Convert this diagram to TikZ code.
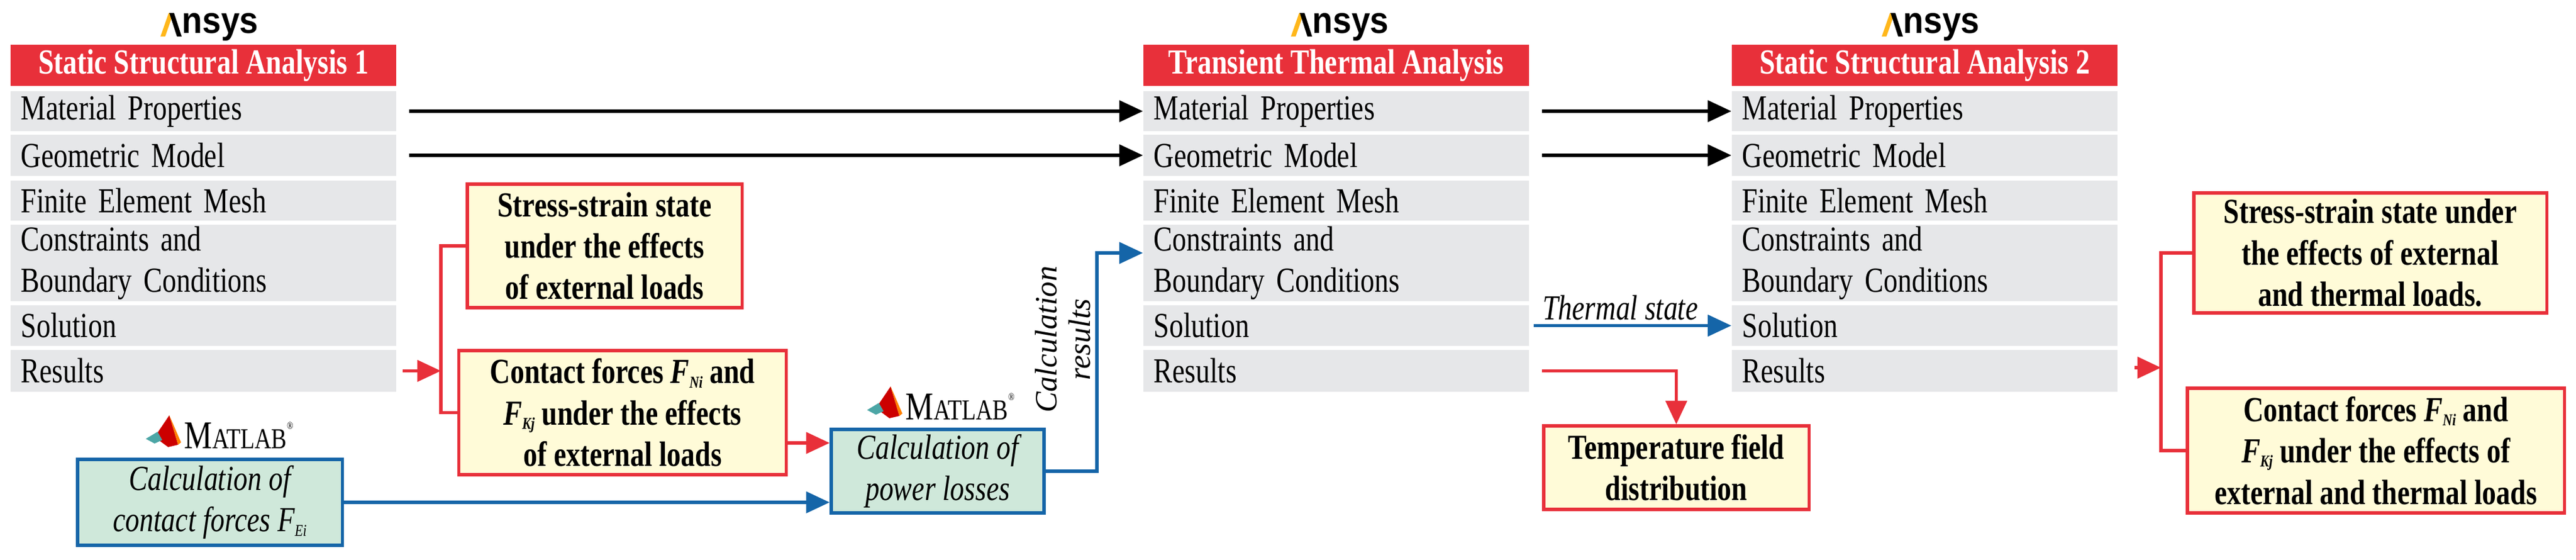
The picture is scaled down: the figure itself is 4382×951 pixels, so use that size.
\documentclass[tikz,border=0pt]{standalone}
\usepackage{fontspec}
\setmainfont{Liberation Serif}[FakeStretch=0.8]
\newfontfamily\logofont{Liberation Sans}[FakeStretch=0.9]
\newfontfamily\plainserif{Liberation Serif}
\usetikzlibrary{arrows.meta}
\definecolor{hdrred}{HTML}{E8303A}
\definecolor{rowgray}{HTML}{E6E7E9}
\definecolor{boxyel}{HTML}{FFFBD8}
\definecolor{boxgrn}{HTML}{CFE8DA}
\definecolor{lnblue}{HTML}{1565A8}
\definecolor{ansor}{HTML}{FFB71B}
\newcommand\ftxt{\fontsize{17pt}{20pt}\selectfont}
\newcommand\Fsub[2]{\textit{#1}\raisebox{-0.12em}{\footnotesize\textit{#2}}}
\tikzset{
  hdr/.style={fill=hdrred, text=white, font=\ftxt\bfseries, minimum width=6.56cm, minimum height=0.70cm, inner sep=0pt},
  row/.style={fill=rowgray, font=\ftxt, minimum width=6.56cm, text width=6.2cm, inner xsep=0.18cm, inner ysep=0pt, align=left},
  ybox/.style={draw=hdrred, line width=1.5pt, fill=boxyel, font=\ftxt\bfseries, align=center, inner sep=0pt},
  gbox/.style={draw=lnblue, line width=1.5pt, fill=boxgrn, font=\ftxt\itshape, align=center, inner sep=0pt},
  blk/.style={line width=1.5pt, -{Triangle[length=0.4cm,width=0.36cm]}},
  redl/.style={hdrred, line width=1.5pt, -{Triangle[length=0.4cm,width=0.36cm]}},
  redp/.style={hdrred, line width=1.5pt},
  bluel/.style={lnblue, line width=1.5pt, -{Triangle[length=0.4cm,width=0.36cm]}},
  lbl/.style={font=\ftxt\itshape, text=black, inner sep=2pt},
}
\newcommand\anacol[3]{%
  \node[hdr] (#1h) at (#2,111) {#3};
  \node[row, minimum height=0.68cm] (#1mat) at (#2,189) {Material Properties};
  \node[row, minimum height=0.70cm] (#1geo) at (#2,264) {Geometric Model};
  \node[row, minimum height=0.68cm] (#1fem) at (#2,341) {Finite Element Mesh};
  \node[row, minimum height=1.30cm] (#1con) at (#2,447) {Constraints and\\Boundary Conditions};
  \node[row, minimum height=0.69cm] (#1sol) at (#2,553.5) {Solution};
  \node[row, minimum height=0.71cm] (#1res) at (#2,630.5) {Results};
}
\newcommand\ansys[2]{%
  \begin{scope}[shift={(#1,#2)}]
    \fill[ansor] (-84,20) -- (-76,20) -- (-62,-20) -- (-70,-20) -- cycle;
    \fill[black] (-69,-20) -- (-61,-20) -- (-48,20) -- (-56,20) -- cycle;
    \node[anchor=west, inner sep=0pt, font=\logofont\bfseries\fontsize{18pt}{18pt}\selectfont] at (-48,4) {nsys};
  \end{scope}}
\newcommand\matlab[2]{%
  \begin{scope}[shift={(#1,#2)}]
    \fill[red!80!black] (-85,5) -- (-60,-32) -- (-45,18) -- (-62,22) -- cycle;
    \fill[orange] (-60,-32) -- (-45,18) -- (-40,14) -- cycle;
    \fill[teal!70] (-100,8) -- (-80,-4) -- (-72,10) -- (-85,16) -- cycle;
    \node[anchor=west, inner sep=0pt, font=\fontsize{19pt}{19pt}\selectfont] at (-35,2) {M{\fontsize{14pt}{14pt}\selectfont ATLAB}\raisebox{0.5em}{\tiny\textregistered}};
  \end{scope}}
\begin{document}
\begin{tikzpicture}[x=0.01cm,y=-0.01cm]
\useasboundingbox (0,0) rectangle (4382,951);
\anacol{a}{346}{Static Structural Analysis 1}
\anacol{b}{2273}{Transient Thermal Analysis}
\anacol{c}{3274}{Static Structural Analysis 2}
\ansys{357}{42}
\ansys{2280}{42}
\ansys{3285}{42}
\matlab{348}{738}
\matlab{1575}{689}

\node[ybox, minimum width=4.67cm, minimum height=2.10cm] (s1) at (1028.5,418) {Stress-strain state\\under the effects\\of external loads};
\node[ybox, minimum width=5.56cm, minimum height=2.11cm] (k1) at (1059,701.5) {Contact forces \Fsub{F}{Ni} and\\\Fsub{F}{Kj} under the effects\\of external loads};
\node[gbox, minimum width=4.50cm, minimum height=1.46cm] (g1) at (357,854) {Calculation of\\contact forces \Fsub{F}{Ei}};
\node[gbox, minimum width=3.62cm, minimum height=1.42cm] (g2) at (1595,801) {Calculation of\\power losses};
\node[ybox, minimum width=4.51cm, minimum height=1.42cm] (t) at (2851.5,795) {Temperature field\\distribution};
\node[ybox, minimum width=6.00cm, minimum height=2.04cm] (s3) at (4032,430) {Stress-strain state under\\the effects of external\\and thermal loads.};
\node[ybox, minimum width=6.41cm, minimum height=2.12cm] (k3) at (4041.5,766) {Contact forces \Fsub{F}{Ni} and\\\Fsub{F}{Kj} under the effects of\\external and thermal loads};

% black arrows
\draw[blk, shorten <=6pt] (amat.east) -- (bmat.west);
\draw[blk, shorten <=6pt] (ageo.east) -- (bgeo.west);
\draw[blk, shorten <=6pt] (bmat.east) -- (cmat.west);
\draw[blk, shorten <=6pt] (bgeo.east) -- (cgeo.west);

% red bracket 1
\coordinate (r1) at (750,630.5);
\draw[redl, shorten <=3pt] (ares.east) -- (r1);
\draw[redp] (s1.west) -| (r1) |- (k1.west);
\coordinate (kk) at (1337,753);
\draw[redl] (kk) -- (kk -| g2.west);

% blue
\draw[bluel] (g1.east) -- (g1.east -| g2.west);
\coordinate (q) at (1866,430);
\draw[bluel] (g2.east) -| (q) -- (q -| bcon.west);
\node[lbl, rotate=90, align=center, font=\plainserif\fontsize{15pt}{16pt}\selectfont\itshape] at (1808,577) {Calculation\\results};
\draw[bluel, shorten <=2pt] (bsol.east) -- node[lbl, above, pos=0.45] {Thermal state} (csol.west);

% red to temperature
\draw[redl, shorten <=6pt] (bres.east) -| (t.north);

% red bracket 3
\coordinate (r3) at (3676,625);
\draw[redl, shorten <=8pt] (cres.east |- r3) -- (r3);
\draw[redp] (s3.west) -| (r3) |- (k3.west);
\end{tikzpicture}
\end{document}
